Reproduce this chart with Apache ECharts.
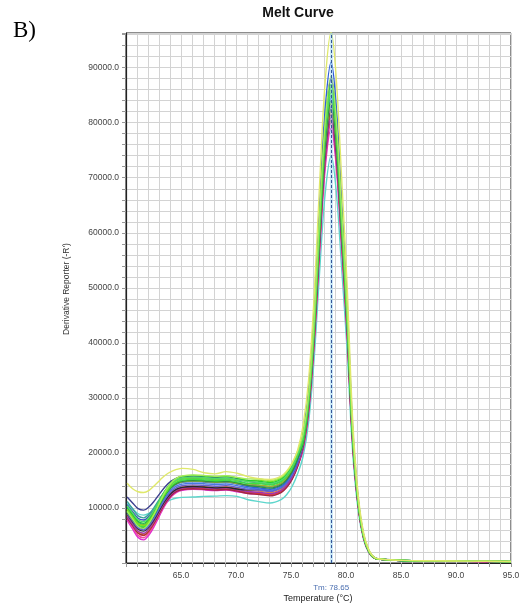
<!DOCTYPE html>
<html>
<head>
<meta charset="utf-8">
<title>Melt Curve</title>
<script src="https://cdn.jsdelivr.net/npm/echarts@6/dist/echarts.min.js"></script>
<style>
  html, body { margin: 0; padding: 0; background: #ffffff; }
  #chart { width: 524px; height: 612px; }
</style>
</head>
<body>
<div id="chart"></div>
<script>
// Temperature readings (°C) shared by every well
const temps = [60.1, 60.6, 61.1, 61.6, 62.1, 62.6, 63.1, 63.6, 64.1, 64.6, 65.1, 66.1, 67.1, 68.1, 69.1, 70.1, 71.1, 72.1, 73.1,
  74.1, 74.6, 75.1, 75.6, 76.1, 76.6, 77.1, 77.6, 78.1, 78.65, 79.1, 79.6, 80.1, 80.6, 81.1, 81.6, 82.1, 82.6, 83.1, 85.1, 88.1, 91.1, 95.0];

// Derivative reporter (-R') per well
const wellCyan = [10800, 9855, 8950, 8700, 9030, 9620, 10350, 11010, 11510, 11800, 11930, 12000, 12100, 12150, 12250, 12100, 11500, 11150, 10900,
  11500, 12400, 13900, 16200, 19400, 25530, 37000, 52840, 66970, 74000, 67860, 53720, 38780, 20280, 9690, 4220, 1780, 820, 680, 440, 370, 320, 240];
const wellMagenta = [7800, 6180, 4630, 4200, 5120, 6780, 8800, 10640, 12020, 12850, 13220, 13400, 13300, 13150, 13250, 12950, 12630, 12550, 12300,
  12900, 13800, 15300, 17600, 20540, 27260, 39500, 56410, 71500, 79000, 72440, 57350, 41400, 21650, 10350, 4500, 1900, 860, 660, 430, 360, 310, 240];
const wellPink = [8100, 6530, 5020, 4600, 5500, 7120, 9100, 10900, 12250, 13060, 13420, 13600, 13500, 13350, 13450, 13150, 12830, 12750, 12500,
  13100, 14000, 15500, 17800, 20800, 27600, 40000, 57120, 72400, 80000, 73360, 58080, 41920, 21920, 10480, 4560, 1920, 870, 660, 440, 370, 310, 240];
const wellRed = [8600, 6980, 5430, 5000, 5870, 7440, 9350, 11090, 12400, 13180, 13530, 13700, 13600, 13450, 13550, 13250, 12830, 12650, 12400,
  13000, 13900, 15400, 17700, 20930, 27770, 40250, 57480, 72850, 80500, 73820, 58440, 42180, 22060, 10550, 4590, 1930, 870, 670, 440, 370, 310, 240];
const wellDarkRed = [8200, 6800, 5470, 5100, 5940, 7450, 9300, 10980, 12240, 13000, 13330, 13500, 13400, 13250, 13350, 13050, 12630, 12450, 12200,
  12800, 13700, 15200, 17500, 21190, 28120, 40750, 58190, 73760, 81500, 74740, 59170, 42710, 22330, 10680, 4650, 1960, 880, 670, 440, 370, 310, 240];
const wellOrange = [8800, 7230, 5720, 5300, 6170, 7740, 9650, 11390, 12700, 13480, 13830, 14000, 13900, 13750, 13850, 13550, 13180, 13050, 12800,
  13400, 14300, 15800, 18100, 21320, 28290, 41000, 58550, 74210, 82000, 75190, 59530, 42970, 22470, 10740, 4670, 1970, 890, 670, 440, 370, 320, 240];
const wellPurple = [8400, 7050, 5760, 5400, 6240, 7750, 9600, 11280, 12540, 13300, 13630, 13800, 13700, 13550, 13650, 13350, 12980, 12850, 12600,
  13200, 14100, 15600, 17900, 21060, 27950, 40500, 57830, 73310, 81000, 74280, 58810, 42440, 22190, 10610, 4620, 1940, 880, 670, 440, 370, 310, 240];
const wellBlack = [8900, 7500, 6170, 5800, 6610, 8070, 9850, 11470, 12690, 13410, 13740, 13900, 13800, 13650, 13750, 13450, 13280, 13350, 13100,
  13700, 14600, 16100, 18400, 21450, 28460, 41250, 58910, 74660, 82500, 75650, 59900, 43230, 22610, 10810, 4700, 1980, 890, 670, 440, 370, 320, 240];
const wellSlate = [9000, 7650, 6360, 6000, 6820, 8300, 10100, 11740, 12970, 13710, 14040, 14200, 14100, 13950, 14050, 13750, 13380, 13250, 13000,
  13600, 14500, 16000, 18300, 21580, 28640, 41500, 59260, 75120, 83000, 76110, 60260, 43490, 22740, 10870, 4730, 1990, 900, 680, 440, 370, 320, 240];
const wellBlueLight = [9300, 7900, 6570, 6200, 7030, 8520, 10350, 12010, 13260, 14000, 14330, 14500, 14400, 14250, 14350, 14050, 13630, 13450, 13200,
  13800, 14700, 16200, 18500, 21970, 29150, 42250, 60330, 76470, 84500, 77490, 61350, 44280, 23150, 11070, 4820, 2030, 910, 690, 450, 380, 330, 250];
const wellBlue = [10000, 8650, 7360, 7000, 7780, 9180, 10900, 12460, 13630, 14330, 14640, 14800, 14700, 14550, 14650, 14350, 13880, 13650, 13400,
  14000, 14900, 16400, 18700, 23660, 31400, 45500, 64970, 82360, 91000, 83450, 66070, 47680, 24930, 11920, 5190, 2180, 980, 720, 470, 400, 340, 260];
const wellRoyal = [10600, 9340, 8140, 7800, 8520, 9820, 11400, 12840, 13920, 14570, 14860, 15000, 14900, 14750, 14850, 14550, 14080, 14050, 13800,
  14400, 15300, 16800, 19100, 22880, 30360, 44000, 62830, 79640, 88000, 80700, 63890, 46110, 24110, 11530, 5020, 2100, 950, 700, 460, 390, 330, 250];
const wellNavy = [12000, 10920, 9890, 9600, 10220, 11340, 12700, 13940, 14870, 15430, 15680, 15800, 15700, 15550, 15650, 15350, 14830, 14550, 14300,
  14900, 15800, 17300, 19600, 22880, 30360, 44000, 62830, 79640, 88000, 80700, 63890, 46110, 24110, 11530, 5020, 2100, 950, 700, 460, 390, 330, 250];
const wellTeal = [11200, 9850, 8560, 8200, 8920, 10220, 11800, 13240, 14320, 14970, 15260, 15400, 15300, 15150, 15250, 14950, 14420, 14150, 13900,
  14500, 15400, 16900, 19200, 22100, 29330, 42500, 60690, 76930, 85000, 77950, 61710, 44540, 23290, 11140, 4850, 2040, 920, 690, 450, 380, 330, 250];
const wellOlive = [9600, 8390, 7220, 6900, 7700, 9140, 10900, 12500, 13700, 14420, 14740, 14900, 14800, 14650, 14750, 14450, 14180, 14150, 13900,
  14500, 15400, 16900, 19200, 21710, 28810, 41750, 59620, 75570, 83500, 76570, 60620, 43750, 22880, 10940, 4760, 2000, 900, 680, 450, 380, 320, 250];
const wellForest = [9200, 7940, 6740, 6400, 7260, 8810, 10700, 12420, 13710, 14480, 14830, 15000, 14900, 14750, 14850, 14550, 14080, 13850, 13600,
  14200, 15100, 16600, 18900, 21840, 28980, 42000, 59980, 76020, 84000, 77030, 60980, 44020, 23020, 11000, 4790, 2020, 910, 680, 450, 380, 320, 250];
const wellGreenBright = [9500, 8200, 6950, 6600, 7460, 9010, 10900, 12620, 13910, 14680, 15030, 15200, 15100, 14950, 15050, 14750, 14480, 14450, 14200,
  14800, 15700, 17200, 19500, 22230, 29500, 42750, 61050, 77380, 85500, 78400, 62070, 44800, 23430, 11200, 4870, 2050, 930, 690, 460, 390, 330, 260];
const wellLime = [9800, 8450, 7160, 6800, 7670, 9240, 11150, 12890, 14200, 14980, 15330, 15500, 15400, 15250, 15350, 15050, 14920, 15050, 14800,
  15400, 16300, 17800, 20100, 23300, 29670, 43000, 61400, 77830, 86000, 78860, 62440, 45060, 23560, 11270, 4900, 2060, 930, 710, 470, 400, 340, 270];
const wellGreen = [10200, 8850, 7560, 7200, 8070, 9640, 11550, 13290, 14600, 15380, 15730, 15900, 15800, 15650, 15750, 15450, 15020, 14850, 14600,
  15200, 16100, 17600, 19900, 23100, 30020, 43500, 62120, 78740, 87000, 79780, 63160, 45590, 23840, 11400, 4960, 2090, 940, 700, 460, 390, 340, 260];
const wellSpring = [10400, 9100, 7850, 7500, 8310, 9770, 11550, 13170, 14390, 15110, 15440, 15600, 15500, 15350, 15450, 15150, 14780, 14650, 14400,
  15000, 15900, 17400, 19700, 22900, 29840, 43250, 61760, 78280, 86500, 79320, 62800, 45330, 23700, 11330, 4930, 2080, 940, 700, 460, 390, 330, 260];
const wellPale = [9400, 8000, 6670, 6300, 7270, 9020, 11150, 13090, 14550, 15420, 15810, 16000, 15900, 15750, 15850, 15550, 15280, 15250, 15000,
  15600, 16500, 18000, 20300, 23500, 30530, 44250, 63190, 80090, 88500, 81150, 64250, 46370, 24250, 11590, 5040, 2120, 950, 710, 470, 400, 340, 270];
const wellYellow = [14500, 13500, 12950, 12800, 13200, 14100, 15100, 16000, 16600, 17000, 17200, 17000, 16400, 16200, 16600, 16300, 15700, 15300, 15200,
  15800, 16700, 18200, 20500, 25000, 33300, 48300, 68900, 87300, 96500, 88500, 70100, 50600, 26400, 12600, 5500, 2300, 1000, 720, 470, 400, 340, 260];

// Melting temperature of the product
const TM = 78.65;

// Labelled ticks
const xTickLabels = [65, 70, 75, 80, 85, 90, 95];
const yTickLabels = [10000, 20000, 30000, 40000, 50000, 60000, 70000, 80000, 90000];

// Drawing order (back to front) and line colours
const wells = [wellCyan, wellMagenta, wellPink, wellRed, wellDarkRed, wellOrange, wellPurple, wellBlack, wellSlate,
  wellBlueLight, wellBlue, wellRoyal, wellNavy, wellTeal, wellOlive, wellForest, wellGreenBright, wellLime, wellGreen,
  wellSpring, wellPale, wellYellow];
const colors = ['#5ed6cc', '#e02ad0', '#f04aa0', '#e23a3a', '#a02a40', '#f08a2a', '#9b35b5', '#2a2a2a', '#6c5fc7',
  '#4a78e0', '#2f5fd8', '#3a4fc0', '#3c3f8f', '#3aa39a', '#9db52a', '#2f8f3f', '#3ee03e', '#7be21f', '#22cc33',
  '#4fd86a', '#a4ec5a', '#dfe86a'];

const FONT = '"Liberation Sans", Arial, sans-serif';

const chart = echarts.init(document.getElementById('chart'), null, { renderer: 'canvas' });

const series = wells.map((values, i) => ({
  type: 'line',
  data: temps.map((t, j) => [t, values[j]]),
  showSymbol: false,
  smooth: 0.35,
  silent: true,
  lineStyle: { width: 1.4, color: colors[i] },
  itemStyle: { color: colors[i] },
  z: 3
}));

// Tm marker: soft halo plus dashed line
series[0].markLine = {
  silent: true, symbol: 'none', animation: false,
  label: { show: false },
  lineStyle: { type: 'solid', color: 'rgba(140,205,235,0.45)', width: 3 },
  data: [{ xAxis: TM }]
};
series[series.length - 1].markLine = {
  silent: true, symbol: 'none', animation: false,
  label: { show: false },
  lineStyle: { type: [3, 2], color: '#35569a', width: 1 },
  data: [{ xAxis: TM }]
};

chart.setOption({
  animation: false,
  backgroundColor: '#ffffff',
  grid: { left: 126, right: 13, top: 33, bottom: 49, show: true, borderColor: '#1a1a1a', borderWidth: 1, backgroundColor: '#ffffff' },
  xAxis: {
    type: 'value', min: 60, max: 95, interval: 1,
    axisLine: { show: true, onZero: false, lineStyle: { color: '#222', width: 1.2 } },
    axisTick: { show: true, length: 4, lineStyle: { color: '#9a9a9a' } },
    axisLabel: {
      fontSize: 8.5, color: '#444', fontFamily: FONT, margin: 8,
      formatter: v => (xTickLabels.includes(Math.round(v * 100) / 100) ? v.toFixed(1) : '')
    },
    splitLine: { show: true, lineStyle: { color: '#d3d3d3', width: 1 } }
  },
  yAxis: {
    type: 'value', min: 0, max: 96300, interval: 2000,
    axisLine: { show: true, lineStyle: { color: '#222', width: 1.2 } },
    axisTick: { show: true, length: 4, lineStyle: { color: '#9a9a9a' } },
    axisLabel: {
      fontSize: 8.5, color: '#444', fontFamily: FONT, margin: 7,
      formatter: v => (yTickLabels.includes(v) ? v.toFixed(1) : '')
    },
    splitLine: { show: true, lineStyle: { color: '#d3d3d3', width: 1 } }
  },
  series: series
});

const tmPx = chart.convertToPixel({ gridIndex: 0 }, [TM, 0]);

chart.setOption({
  graphic: [
    { type: 'text', x: 298, y: 13, silent: true,
      style: { text: 'Melt Curve', fill: '#111', font: 'bold 14px ' + FONT, textAlign: 'center', textVerticalAlign: 'middle' } },
    { type: 'text', x: 13, y: 31, silent: true,
      style: { text: 'B)', fill: '#000', font: '23px "Liberation Serif", "Times New Roman", serif', textAlign: 'left', textVerticalAlign: 'middle' } },
    { type: 'text', x: 67, y: 289, rotation: Math.PI / 2, silent: true,
      style: { text: "Derivative Reporter (-R')", fill: '#333', font: '8.5px ' + FONT, textAlign: 'center', textVerticalAlign: 'middle' } },
    { type: 'text', x: 318, y: 599, silent: true,
      style: { text: 'Temperature (°C)', fill: '#222', font: '9px ' + FONT, textAlign: 'center', textVerticalAlign: 'middle' } },
    { type: 'text', x: tmPx[0], y: 588, silent: true,
      style: { text: 'Tm: ' + TM.toFixed(2), fill: '#4a6eb0', font: '8px ' + FONT, textAlign: 'center', textVerticalAlign: 'middle' } }
  ]
});
</script>
</body>
</html>
